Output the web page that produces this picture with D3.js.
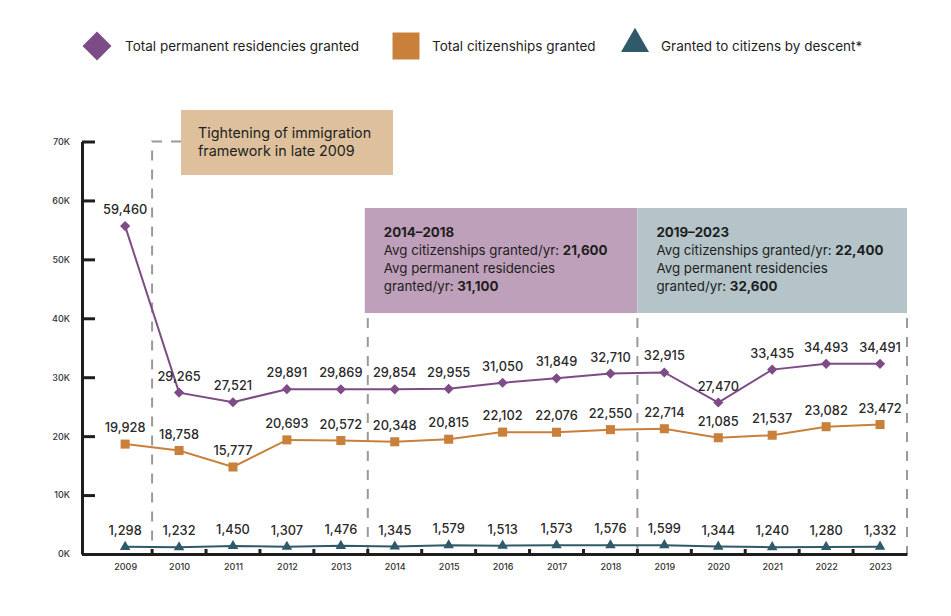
<!DOCTYPE html>
<html>
<head>
<meta charset="utf-8">
<script src="https://cdn.jsdelivr.net/npm/d3@7"></script>
<style>
  body { margin: 0; background: #fff; }
  text { font-family: Inter, "Noto Sans", sans-serif; }
</style>
</head>
<body>
<div id="chart"></div>
<script>
var width = 951,
    height = 616;

var years = [2009, 2010, 2011, 2012, 2013, 2014, 2015, 2016, 2017, 2018, 2019, 2020, 2021, 2022, 2023];
var permRes = [59460, 29265, 27521, 29891, 29869, 29854, 29955, 31050, 31849, 32710, 32915, 27470, 33435, 34493, 34491];
var citizenships = [19928, 18758, 15777, 20693, 20572, 20348, 20815, 22102, 22076, 22550, 22714, 21085, 21537, 23082, 23472];
var descent = [1298, 1232, 1450, 1307, 1476, 1345, 1579, 1513, 1573, 1576, 1599, 1344, 1240, 1280, 1332];
var yTicks = [0, 10000, 20000, 30000, 40000, 50000, 60000, 70000];
var seriesNames = ["Total permanent residencies granted", "Total citizenships granted", "Granted to citizens by descent*"];

var color = ["#7d4c86", "#c9803a", "#2e5a6a"];
var fmt = d3.format(",");

var svg = d3.select("#chart")
    .append("svg")
    .attr("width", width)
    .attr("height", height);

var xScale = d3.scaleLinear()
    .domain([2008.2, 2023.5])
    .range([82, 907]);

// the marks in the original sit on a slightly compressed scale vs. the tick labels
var yScale = d3.scaleLinear()
    .domain([0, 74800])
    .range([554, 141.5]);

var yAxisScale = d3.scaleLinear()
    .domain([0, 70000])
    .range([554, 141.5]);

// period boxes
var boxes = svg.append("g");
boxes.append("rect")
    .attr("x", xScale(2013.5) - 3)
    .attr("y", 208)
    .attr("width", xScale(2018.5) - xScale(2013.5) + 3)
    .attr("height", 105)
    .attr("fill", "#bea0ba");
boxes.append("rect")
    .attr("x", xScale(2018.5))
    .attr("y", 208)
    .attr("width", xScale(2023.5) - xScale(2018.5))
    .attr("height", 105)
    .attr("fill", "#b4c4c9");

var boxText = [
    {x: xScale(2013.5) + 16, lines: [["2014–2018", ""], ["Avg citizenships granted/yr: ", "21,600"], ["Avg permanent residencies", ""], ["granted/yr: ", "31,100"]]},
    {x: xScale(2018.5) + 19, lines: [["2019–2023", ""], ["Avg citizenships granted/yr: ", "22,400"], ["Avg permanent residencies", ""], ["granted/yr: ", "32,600"]]}
];
boxText.forEach(function(b) {
    b.lines.forEach(function(l, i) {
        var t = boxes.append("text")
            .attr("x", b.x)
            .attr("y", 237 + i * 18)
            .attr("fill", "#1e1e1e")
            .style("font-size", "13.3px");
        if (i == 0) {
            t.append("tspan").attr("font-weight", 700).text(l[0]);
        } else {
            t.append("tspan").text(l[0]);
            t.append("tspan").attr("font-weight", 700).text(l[1]);
        }
    });
});

// annotation box
svg.append("rect")
    .attr("x", 181)
    .attr("y", 110)
    .attr("width", 212)
    .attr("height", 65)
    .attr("fill", "#dec09d");
svg.append("text")
    .attr("x", 198)
    .attr("y", 138)
    .attr("fill", "#222")
    .style("font-size", "14.3px")
    .text("Tightening of immigration");
svg.append("text")
    .attr("x", 198)
    .attr("y", 156)
    .attr("fill", "#222")
    .style("font-size", "14.3px")
    .text("framework in late 2009");

// dashed dividers
var dash = svg.append("g")
    .attr("fill", "none")
    .attr("stroke", "#9a9a9a")
    .attr("stroke-width", 2)
    .attr("stroke-dasharray", "10,9");
dash.append("path")
    .attr("d", "M181," + yAxisScale(70000) + "H" + xScale(2009.5) + "V" + yScale(0));
[2013.5, 2018.5, 2023.5].forEach(function(v) {
    dash.append("line")
        .attr("x1", xScale(v)).attr("x2", xScale(v))
        .attr("y1", 318).attr("y2", yScale(0));
});

// lines + markers
var allSeries = [permRes, citizenships, descent];
var symbols = [
    d3.symbol().type(d3.symbolSquare).size(52),
    d3.symbol().type(d3.symbolSquare).size(82),
    d3.symbol().type(d3.symbolTriangle).size(48)
];
var line = d3.line()
    .x(function(d, i) { return xScale(years[i]); })
    .y(function(d) { return yScale(d); });

allSeries.forEach(function(s, j) {
    var g = svg.append("g");
    g.append("path")
        .attr("fill", "none")
        .attr("stroke", color[j])
        .attr("stroke-width", 2)
        .attr("d", line(s));
    g.selectAll(".m")
        .data(s)
        .enter()
        .append("path")
        .attr("transform", function(d, i) {
            return "translate(" + xScale(years[i]) + "," + yScale(d) + ")" + (j == 0 ? " rotate(45)" : "");
        })
        .attr("d", symbols[j]())
        .attr("fill", color[j]);
    g.selectAll(".lbl")
        .data(s)
        .enter()
        .append("text")
        .attr("x", function(d, i) { return xScale(years[i]); })
        .attr("y", function(d) { return yScale(d) - 12; })
        .attr("text-anchor", "middle")
        .attr("fill", "#2a2a2a")
        .style("font-size", "12.8px")
        .style("font-weight", 500)
        .text(function(d) { return fmt(d); });
});

// y axis
var yAxis = svg.append("g")
    .attr("transform", "translate(" + xScale(2008.2) + ",0)")
    .call(d3.axisLeft(yAxisScale)
        .tickValues(yTicks)
        .tickSize(-13)
        .tickSizeOuter(0)
        .tickPadding(12)
        .tickFormat(function(d) { return (d / 1000) + "K"; }));
yAxis.select(".domain").attr("stroke", "#1e1e1e").attr("stroke-width", 3);
yAxis.selectAll(".tick line").attr("stroke", "#1e1e1e").attr("stroke-width", 3);
yAxis.selectAll(".tick text")
    .attr("fill", "#333")
    .style("font-size", "9px")
    .style("font-weight", 500)
    .style("font-family", "Inter, sans-serif");

// x axis
var xAxis = svg.append("g")
    .attr("transform", "translate(0," + yScale(0) + ")")
    .call(d3.axisBottom(xScale)
        .tickValues(years)
        .tickSize(0)
        .tickSizeOuter(0)
        .tickPadding(10)
        .tickFormat(d3.format("d")));
xAxis.select(".domain").attr("stroke", "#1e1e1e").attr("stroke-width", 3);
xAxis.selectAll(".tick text")
    .attr("fill", "#333")
    .style("font-size", "9px")
    .style("font-weight", 500)
    .style("font-family", "Inter, sans-serif");

var halfTicks = years.slice(0, 14).map(function(y) { return y + 0.5; });
svg.append("g")
    .selectAll("line")
    .data(halfTicks)
    .enter()
    .append("line")
    .attr("x1", function(d) { return xScale(d); })
    .attr("x2", function(d) { return xScale(d); })
    .attr("y1", yScale(0))
    .attr("y2", yScale(0) - 5)
    .attr("stroke", "#1e1e1e")
    .attr("stroke-width", 3);

// legend
var legX = [97, 406, 635];
var legTextX = [125, 432, 661];
var legSymbols = [
    d3.symbol().type(d3.symbolSquare).size(420),
    d3.symbol().type(d3.symbolSquare).size(729),
    d3.symbol().type(d3.symbolTriangle).size(340)
];
var leg = svg.append("g");
seriesNames.forEach(function(n, j) {
    leg.append("path")
        .attr("transform", "translate(" + legX[j] + "," + (j == 2 ? 44 : 46) + ")" + (j == 0 ? " rotate(45)" : ""))
        .attr("d", legSymbols[j]())
        .attr("fill", color[j]);
    leg.append("text")
        .attr("x", legTextX[j])
        .attr("y", 51)
        .attr("fill", "#1e1e1e")
        .style("font-size", "13.5px")
        .text(n);
});
</script>
</body>
</html>
